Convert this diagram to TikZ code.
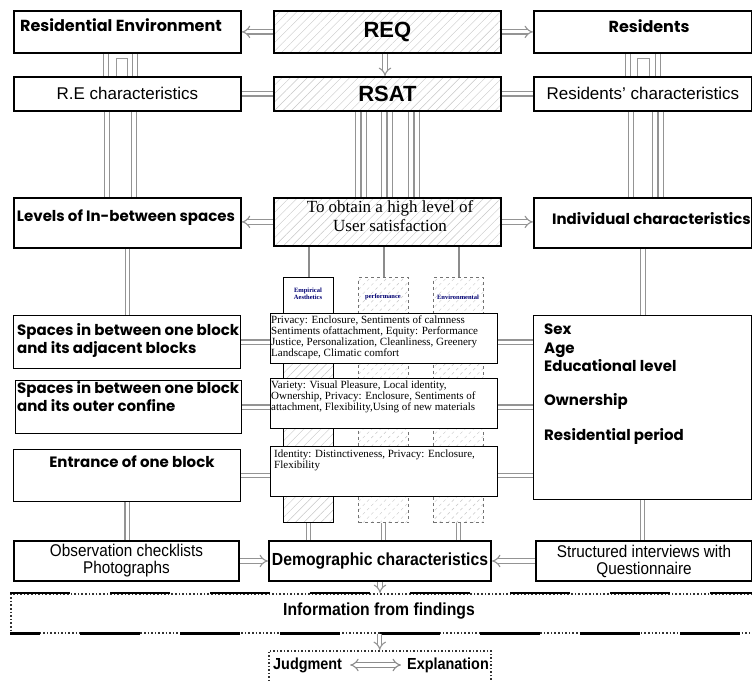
\documentclass[tikz,border=0pt]{standalone}
\usepackage{fontspec}
\setmainfont{Liberation Serif}
\setsansfont{Liberation Sans}
\newfontfamily\gothic{Poppins}
\newfontfamily\narrowsans{Liberation Sans}[FakeStretch=0.9]
\usetikzlibrary{arrows.meta,patterns.meta}
\tikzset{
  box/.style={draw=black, line width=1.8pt, fill=white, anchor=north west, inner sep=0pt},
  midbox/.style={draw=black, line width=1.3pt, fill=white, anchor=north west, inner sep=0pt},
  hatchbox/.style={draw=black, line width=1.8pt, anchor=north west, inner sep=0pt,
    preaction={fill=white}, pattern={Lines[angle=45,distance=6pt,line width=0.4pt]}, pattern color=black!22},
  colhatch/.style={anchor=north west, inner sep=0pt, minimum width=50pt, minimum height=245pt,
    preaction={fill=white}, pattern={Lines[angle=45,distance=6pt,line width=0.4pt]}, pattern color=black!22},
  conn/.style={draw=black!42, line width=1.1pt, double=white, double distance=3.2pt},
  connarr/.style={conn, -{Implies}},
  trip/.style={draw=white, line width=10pt, preaction={draw=black!42, line width=12.2pt}, postaction={draw=black!42, line width=1.1pt}},
  single/.style={draw=black!45, line width=2pt},
  gothb/.style={font=\gothic\bfseries\fontsize{15}{18}\selectfont},
  bigb/.style={font=\gothic\bfseries\fontsize{16}{18}\selectfont},
  reg/.style={font=\sffamily\fontsize{17}{19}\selectfont},
  nreg/.style={font=\narrowsans\fontsize{17}{17}\selectfont, align=center},
  nbold/.style={font=\narrowsans\bfseries\fontsize{17.5}{19}\selectfont},
  small/.style={anchor=north west, align=left, inner sep=0pt, font=\fontsize{11}{11}\selectfont},
  lab/.style={align=center, inner sep=0pt, text=blue!45!black, font=\bfseries\fontsize{6.5}{7}\selectfont},
}
\begin{document}
\begin{tikzpicture}[x=1pt,y=-1pt]
\useasboundingbox (0,0) rectangle (752,682);

% columns behind the middle boxes
\node[colhatch, draw=black, line width=1.2pt] (c1) at (283,277) {};
\fill[white] ([shift={(1,1)}]c1.north west) rectangle ([shift={(-1,36)}]c1.north east);
\node[colhatch, draw=black!55, dashed, line width=1pt] (c2) at (358,277) {};
\node[colhatch, draw=black!55, dashed, line width=1pt] (c3) at (433,277) {};
\node[lab] (l1) at (308,294) {Empirical\\Aesthetics};
\node[lab] (l2) at (383,297) {performance};
\node[lab] (l3) at (458,297) {Environmental};

% top rows
\node[box, minimum width=227pt, minimum height=42pt] (re) at (13,10) {};
\node[bigb] (tre) at (121,25) {Residential Environment};
\node[hatchbox, minimum width=227pt, minimum height=42pt, font=\sffamily\bfseries\fontsize{22}{24}\selectfont] (req) at (273,10) {REQ};
\node[box, minimum width=218pt, minimum height=42pt] (res) at (533,10) {};
\node[bigb] (tres) at (649,26) {Residents};

\node[box, minimum width=227pt, minimum height=34pt, reg] (rec) at (13,76) {R.E characteristics};
\node[hatchbox, minimum width=227pt, minimum height=34pt, font=\sffamily\bfseries\fontsize{22}{24}\selectfont] (rsat) at (273,76) {RSAT};
\node[box, minimum width=218pt, minimum height=34pt, reg] (resc) at (533,76) {Residents' characteristics};

\node[box, minimum width=227pt, minimum height=50pt] (lev) at (13,197) {};
\node[gothb] (tlev) at (126,218) {Levels of In-between spaces};
\node[hatchbox, minimum width=227pt, minimum height=48pt] (obt) at (273,197) {};
\node[align=center, inner sep=0pt, font=\fontsize{17}{19}\selectfont] (tobt) at (390,216) {To obtain a high level of\\User satisfaction};
\node[box, minimum width=218pt, minimum height=50pt] (ind) at (533,197) {};
\node[gothb, anchor=west, inner sep=0pt] (tind) at (552,219) {Individual characteristics};

% middle boxes
\node[midbox, minimum width=227pt, minimum height=50pt] (m1) at (270,313) {};
\node[small] (t1) at (271,316) {Privacy: Enclosure, Sentiments of calmness\\Sentiments ofattachment, Equity: Performance\\Justice, Personalization, Cleanliness, Greenery\\Landscape, Climatic comfort};
\node[midbox, minimum width=227pt, minimum height=50pt] (m2) at (270,378) {};
\node[small] (t2) at (271,381) {Variety: Visual Pleasure, Local identity,\\Ownership, Privacy: Enclosure, Sentiments of\\attachment, Flexibility,Using of new materials};
\node[midbox, minimum width=227pt, minimum height=50pt] (m3) at (270,446) {};
\node[small] (t3) at (274,450) {Identity: Distinctiveness, Privacy: Enclosure,\\Flexibility};

% left boxes
\node[midbox, minimum width=227pt, minimum height=53pt] (sp1) at (13,315) {};
\node[gothb, anchor=north west, align=left, inner sep=0pt] (tsp1) at (17,323) {Spaces in between one block\\and its adjacent blocks};
\node[midbox, minimum width=226pt, minimum height=53pt] (sp2) at (15,380) {};
\node[gothb, anchor=north west, align=left, inner sep=0pt] (tsp2) at (17,381) {Spaces in between one block\\and its outer confine};
\node[midbox, minimum width=227pt, minimum height=52pt] (ent) at (13,449) {};
\node[gothb] (tent) at (132,462) {Entrance of one block};

% right big box
\node[midbox, minimum width=218pt, minimum height=184pt] (rb) at (533,315) {};
\node[gothb, anchor=north west, align=left, inner sep=0pt, font=\gothic\bfseries\fontsize{15}{18.5}\selectfont] (trb) at (544,324) {Sex\\Age\\Educational level\\[15pt]Ownership\\[17pt]Residential period};

% bottom rows
\node[box, line width=2pt, minimum width=225pt, minimum height=40pt, nreg] (obs) at (13,540) {Observation checklists\\Photographs};
\node[box, line width=2pt, minimum width=222pt, minimum height=40pt, nbold] (dem) at (268,540) {Demographic characteristics};
\node[box, line width=2pt, minimum width=216pt, minimum height=40pt, nreg] (str) at (535,540) {Structured interviews with\\Questionnaire};

\node[draw=black!80, dotted, line width=1.6pt, anchor=north west, inner sep=0pt, minimum width=742pt, minimum height=39pt, fill=white] (inf) at (10,593) {};
\draw[line width=2.4pt, dash pattern=on 60pt off 40pt] (inf.north west) -- (inf.north east);
\draw[line width=2.4pt, dash pattern=on 60pt off 40pt, dash phase=30pt] (inf.south west) -- (inf.south east);
\node[nbold] (tinf) at (379,611) {Information from findings};

\node[draw=black!80, dotted, line width=1.5pt, anchor=north west, inner sep=0pt, minimum width=222pt, minimum height=45pt, fill=white] (jud) at (268,650) {};
\node[nbold, font=\narrowsans\bfseries\fontsize{16}{18}\selectfont, anchor=west, inner sep=0pt] (jl) at (273,665) {Judgment};
\node[nbold, font=\narrowsans\bfseries\fontsize{16}{18}\selectfont, anchor=east, inner sep=0pt] (el) at (489,665) {Explanation};
\draw[conn, draw=black!45, {Implies}-{Implies}, shorten <=8pt, shorten >=6pt] (jl) -- (el);

% connectors: top rows
\draw[connarr] (req.west) -- (re.east);
\draw[connarr] (req.east) -- (res.west);
\draw[conn] (rec.east) -- (rsat.west);
\draw[conn] (rsat.east) -- (resc.west);
\draw[conn] ([xshift=93pt]re.south west) -- ([xshift=93pt]rec.north west);
\draw[conn] ([xshift=122pt]re.south west) -- ([xshift=122pt]rec.north west);
\draw[draw=black!40, line width=1pt] ([xshift=103pt]rec.north west) -- ++(0,-17) -- ++(11,0) -- ++(0,17);
\draw[connarr] ([xshift=112pt]req.south west) -- ([xshift=112pt]rsat.north west);
\draw[conn] ([xshift=95pt]res.south west) -- ([xshift=95pt]resc.north west);
\draw[conn] ([xshift=125pt]res.south west) -- ([xshift=125pt]resc.north west);
\draw[draw=black!40, line width=1pt] ([xshift=104pt]resc.north west) -- ++(0,-17) -- ++(12,0) -- ++(0,17);

\draw[conn] ([xshift=94pt]rec.south west) -- ([xshift=94pt]lev.north west);
\draw[conn] ([xshift=121pt]rec.south west) -- ([xshift=121pt]lev.north west);
\draw[trip] ([xshift=88pt]rsat.south west) -- ([xshift=88pt]obt.north west);
\draw[trip] ([xshift=114pt]rsat.south west) -- ([xshift=114pt]obt.north west);
\draw[trip] ([xshift=141pt]rsat.south west) -- ([xshift=141pt]obt.north west);
\draw[conn] ([xshift=98pt]resc.south west) -- ([xshift=98pt]ind.north west);
\draw[trip] ([xshift=125pt]resc.south west) -- ([xshift=125pt]ind.north west);

\draw[connarr] (obt.west) -- (obt.west -| lev.east);
\draw[connarr] (obt.east) -- (obt.east -| ind.west);

% down to the second level
\draw[conn] (lev.south) -- (lev.south |- sp1.north);
\draw[conn] (ind.south) -- (ind.south |- rb.north);
\draw[single] (obt.south -| c1.north) -- (c1.north);
\draw[single] (obt.south -| c2.north) -- (c2.north);
\draw[single] (obt.south -| c3.north) -- (c3.north);

% middle boxes to the sides
\draw[conn] (sp1.east) -- (sp1.east -| m1.west);
\draw[conn] (m1.east |- sp1.east) -- (rb.west |- sp1.east);
\draw[conn] (sp2.east) -- (sp2.east -| m2.west);
\draw[conn] (m2.east |- sp2.east) -- (rb.west |- sp2.east);
\draw[conn] (ent.east) -- (ent.east -| m3.west);
\draw[conn] (m3.east |- ent.east) -- (rb.west |- ent.east);

% down to the bottom rows
\draw[conn] (ent.south) -- (ent.south |- obs.north);
\draw[conn] (rb.south) -- (rb.south |- str.north);
\draw[conn] (c1.south) -- (c1.south |- dem.north);
\draw[conn] (c2.south) -- (c2.south |- dem.north);
\draw[conn] (c3.south) -- (c3.south |- dem.north);
\draw[connarr] (obs.east) -- (dem.west);
\draw[connarr] (str.west) -- (dem.east);
\draw[connarr] (dem.south) -- (dem.south |- inf.north);
\draw[connarr] (inf.south -| jud.north) -- (jud.north);
\end{tikzpicture}
\end{document}
